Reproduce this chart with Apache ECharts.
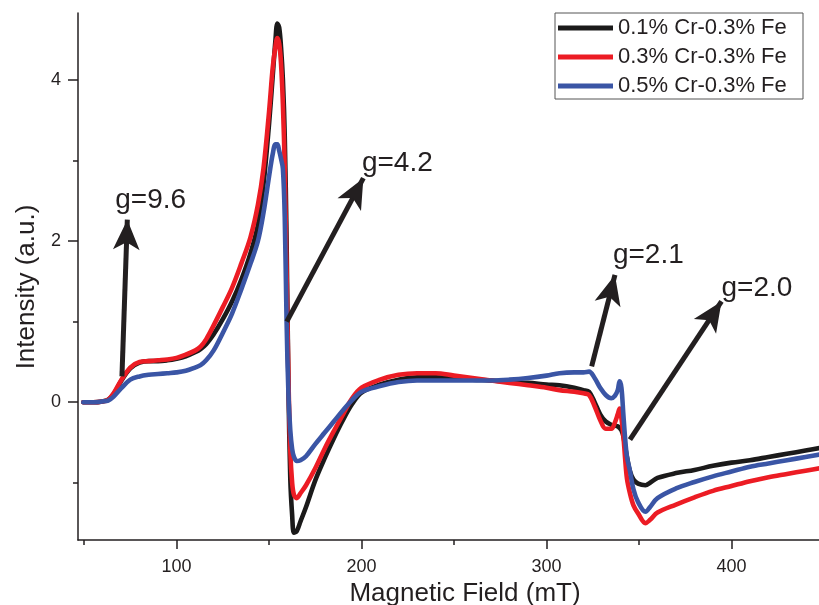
<!DOCTYPE html>
<html><head><meta charset="utf-8">
<script src="https://cdn.jsdelivr.net/npm/echarts@6/dist/echarts.min.js"></script>
<style>html,body{margin:0;padding:0;background:#fff}#c{width:819px;height:605px}</style>
</head><body><div id="c"></div>
<script>
// Magnetic field (mT)
const field = [
  49.6, 55, 60, 63, 66, 70, 75, 80, 85, 90,
  95, 100, 105, 110, 113, 116, 120, 125, 130, 135,
  140, 144, 147, 150, 152, 153.5, 154.5, 155.5, 156.5, 157.5,
  158.5, 159.5, 160.5, 161.5, 162.5, 163.5, 165, 167, 170, 175,
  180, 185, 190, 195, 200, 210, 220, 230, 240, 250,
  260, 270, 280, 290, 300, 307, 315, 320, 323, 326,
  329, 332, 335, 337, 338.5, 339.5, 340.5, 341.5, 342.5, 343.5,
  345, 347, 349.5, 353.5, 356, 360, 370, 380, 390, 400,
  410, 420, 430, 440, 450
];
// 0.1% Cr-0.3% Fe
const cr01 = [
  0, 0, 0.01, 0.03, 0.1, 0.26, 0.42, 0.49, 0.51, 0.51,
  0.52, 0.54, 0.57, 0.62, 0.66, 0.72, 0.84, 1.03, 1.25, 1.52,
  1.85, 2.2, 2.7, 3.45, 4.05, 4.5, 4.7, 4.65, 4.4, 4.0,
  3.3, 2.0, 0.2, -0.95, -1.4, -1.62, -1.6, -1.48, -1.3, -0.97,
  -0.7, -0.45, -0.22, -0.02, 0.12, 0.22, 0.28, 0.31, 0.31, 0.3,
  0.28, 0.27, 0.25, 0.24, 0.22, 0.21, 0.18, 0.15, 0.13, 0.0,
  -0.15, -0.24, -0.28, -0.29, -0.3, -0.32, -0.35, -0.42, -0.55, -0.68,
  -0.85, -0.96, -1.01, -1.03, -1.0, -0.94, -0.88, -0.84, -0.79, -0.75,
  -0.72, -0.68, -0.64, -0.6, -0.56
];
// 0.3% Cr-0.3% Fe
const cr03 = [
  0, 0, 0.01, 0.03, 0.11, 0.27, 0.43, 0.5, 0.51, 0.52,
  0.53, 0.55, 0.59, 0.64, 0.69, 0.78, 0.95, 1.18, 1.42, 1.72,
  2.05, 2.45, 2.9, 3.6, 4.15, 4.42, 4.52, 4.45, 4.2, 3.7,
  2.9, 1.6, 0.3, -0.6, -1.0, -1.15, -1.19, -1.13, -1.03, -0.82,
  -0.58, -0.36, -0.15, 0.05, 0.18, 0.28, 0.34, 0.36, 0.36, 0.33,
  0.3, 0.27, 0.24, 0.21, 0.18, 0.15, 0.13, 0.11, 0.09, -0.05,
  -0.22, -0.33, -0.33, -0.25, -0.15, -0.08, -0.2, -0.4, -0.7, -0.95,
  -1.12, -1.28, -1.38, -1.5, -1.46, -1.37, -1.27, -1.18, -1.1, -1.04,
  -0.98, -0.93, -0.89, -0.85, -0.81
];
// 0.5% Cr-0.3% Fe
const cr05 = [
  0, 0, 0.01, 0.02, 0.07, 0.17, 0.28, 0.32, 0.34, 0.35,
  0.36, 0.37, 0.39, 0.43, 0.46, 0.52, 0.64, 0.86, 1.1, 1.4,
  1.72, 2.0, 2.35, 2.8, 3.08, 3.2, 3.2, 3.12, 3.02, 2.9,
  2.3, 1.0, 0.1, -0.35, -0.58, -0.68, -0.73, -0.72, -0.67, -0.52,
  -0.38, -0.24, -0.1, 0.03, 0.13, 0.2, 0.25, 0.27, 0.27, 0.27,
  0.27, 0.27, 0.28, 0.3, 0.33, 0.36, 0.37, 0.37, 0.38, 0.3,
  0.18, 0.09, 0.05, 0.08, 0.15, 0.26, 0.18, -0.14, -0.45, -0.68,
  -0.84, -1.08, -1.24, -1.36, -1.3, -1.19, -1.07, -0.99, -0.92, -0.86,
  -0.8, -0.76, -0.72, -0.68, -0.64
];
const seriesNames = ['0.1% Cr-0.3% Fe', '0.3% Cr-0.3% Fe', '0.5% Cr-0.3% Fe'];
const seriesColors = ['#1b1a1a', '#ec1c24', '#3a55a5'];
const xTicks = [100, 200, 300, 400];
const yTicks = [0, 2, 4];
// annotations: g-factor labels and arrows (data coordinates)
const gLabels = ['g=9.6', 'g=4.2', 'g=2.1', 'g=2.0'];
const labelAt = [[66.9, 2.5], [200.2, 2.97], [335.9, 1.82], [394.6, 1.42]];
const arrowFrom = [[70.5, 0.32], [159.6, 1.0], [324.4, 0.444], [345.1, -0.465]];
const arrowTo = [[73.4, 2.265], [201.0, 2.78], [337.0, 1.58], [394.6, 1.25]];

const FONT = 'Liberation Sans, Arial, Helvetica, sans-serif';
const INK = '#231f20';
const chart = echarts.init(document.getElementById('c'), null, {renderer: 'canvas'});
const values = [cr01, cr03, cr05];

const series = seriesNames.map((name, k) => ({
  type: 'line',
  name: name,
  data: field.map((x, i) => [x, values[k][i]]),
  showSymbol: false,
  symbol: 'none',
  smooth: 0.35,
  lineStyle: {width: 4.6, color: seriesColors[k], cap: 'round', join: 'round'},
  itemStyle: {color: seriesColors[k]},
  z: 2 + k,
  silent: true
}));

series[2].markLine = {
  silent: true,
  symbol: ['none', 'arrow'],
  symbolSize: [20, 30],
  label: {show: false},
  emphasis: {disabled: true},
  lineStyle: {color: INK, width: 5, type: 'solid'},
  itemStyle: {color: INK},
  data: arrowFrom.map((p, i) => [{coord: p}, {coord: arrowTo[i]}])
};
series[2].markPoint = {
  silent: true,
  symbol: 'circle',
  symbolSize: 0,
  itemStyle: {color: 'rgba(0,0,0,0)'},
  label: {
    show: true, position: 'right', distance: 0,
    formatter: p => p.name,
    fontSize: 28, fontFamily: FONT, color: INK
  },
  data: gLabels.map((g, i) => ({name: g, coord: labelAt[i]}))
};

const axisInk = {color: INK, width: 1.5};
chart.setOption({
  animation: false,
  backgroundColor: '#fff',
  grid: {left: 78, top: 13, right: -5, bottom: 65, containLabel: false, outerBoundsMode: 'none'},
  legend: {
    data: seriesNames,
    orient: 'vertical',
    left: 555, top: 13,
    icon: 'rect', itemWidth: 55, itemHeight: 5, itemGap: 5,
    padding: [3, 3, 1, 3],
    borderColor: '#555', borderWidth: 1,
    selectedMode: false,
    textStyle: {fontSize: 22, fontFamily: FONT, color: INK, lineHeight: 24, width: 182}
  },
  xAxis: {
    type: 'value', min: 46.74, max: 450, splitNumber: 4,
    axisLine: {show: true, onZero: false, lineStyle: axisInk},
    axisTick: {show: true, length: 9, customValues: xTicks, lineStyle: axisInk},
    minorTick: {show: true, splitNumber: 2, length: 5, lineStyle: axisInk},
    axisLabel: {customValues: xTicks, margin: 18, fontSize: 18, fontFamily: FONT, color: INK},
    splitLine: {show: false},
    minorSplitLine: {show: false},
    name: 'Magnetic Field (mT)', nameLocation: 'middle', nameGap: 40,
    nameTextStyle: {fontSize: 26, fontFamily: FONT, color: INK, padding: [0, 0, 0, 28]}
  },
  yAxis: {
    type: 'value', min: -1.71, max: 4.83, splitNumber: 3,
    axisLine: {show: true, onZero: false, lineStyle: axisInk},
    axisTick: {show: true, length: 10, customValues: yTicks, lineStyle: axisInk},
    minorTick: {show: true, splitNumber: 2, length: 5, lineStyle: axisInk},
    axisLabel: {customValues: yTicks, margin: 17, fontSize: 18, fontFamily: FONT, color: INK},
    splitLine: {show: false},
    minorSplitLine: {show: false},
    name: 'Intensity (a.u.)', nameLocation: 'middle', nameGap: 37,
    nameTextStyle: {fontSize: 26, fontFamily: FONT, color: INK, padding: [0, 21, 0, 0]}
  },
  series: series
});
</script>
</body></html>
